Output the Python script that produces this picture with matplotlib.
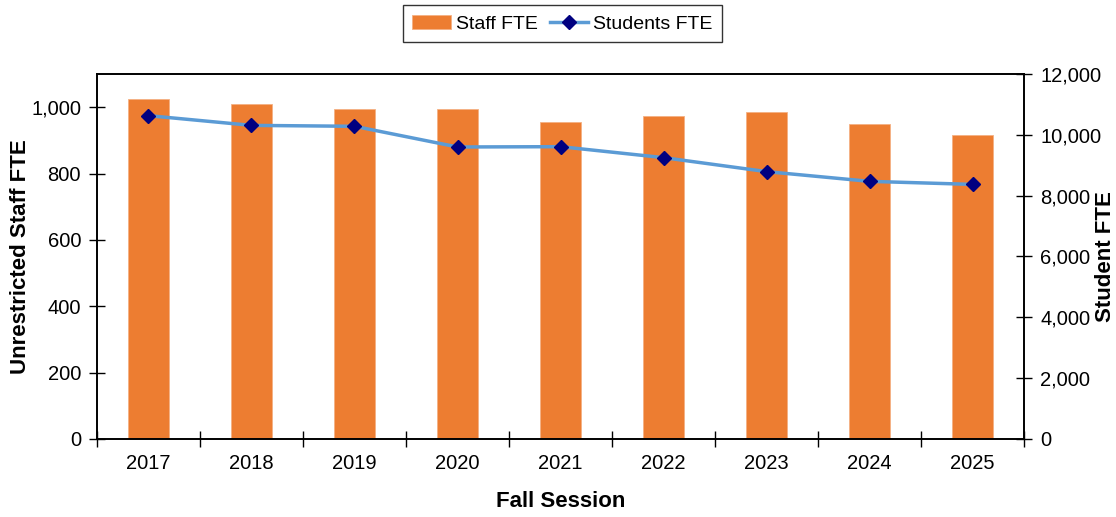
import matplotlib
matplotlib.use('Agg')
import matplotlib.pyplot as plt
import numpy as np
from matplotlib.ticker import FuncFormatter, FixedLocator, NullFormatter

plt.rcParams['font.family'] = ['Liberation Sans', 'DejaVu Sans']

years = ['2017', '2018', '2019', '2020', '2021', '2022', '2023', '2024', '2025']
staff_fte = [1025, 1010, 993, 993, 956, 972, 986, 950, 915]
students_fte = [10630, 10310, 10280, 9600, 9610, 9250, 8790, 8470, 8370]

fig = plt.figure(figsize=(11.16, 5.17), dpi=100)
ax1 = fig.add_axes([0.0869, 0.1509, 0.8307, 0.706])
ax2 = ax1.twinx()

x = np.arange(len(years))
bars = ax1.bar(x, staff_fte, width=0.4, color='#ED7D31', edgecolor='#F4B183',
               linewidth=0.6, label='Staff FTE', zorder=2)
line, = ax2.plot(x, students_fte, color='#5B9BD5', linewidth=2.5, marker='D',
                 markersize=7, markerfacecolor='#000080', markeredgecolor='#000080',
                 label='Students FTE', zorder=3)

ax1.set_xlim(-0.5, len(years) - 0.5)
ax1.set_ylim(0, 1100)
ax1.set_yticks(range(0, 1001, 200))
ax2.set_ylim(0, 12000)
ax2.set_yticks(range(0, 12001, 2000))

fmt = FuncFormatter(lambda v, p: f'{int(v):,}')
ax1.yaxis.set_major_formatter(fmt)
ax2.yaxis.set_major_formatter(fmt)

# category boundaries as tick marks, labels at centres
ax1.xaxis.set_major_locator(FixedLocator(np.arange(-0.5, len(years), 1.0)))
ax1.xaxis.set_major_formatter(NullFormatter())
ax1.xaxis.set_minor_locator(FixedLocator(x))
ax1.set_xticklabels(years, minor=True)
ax1.tick_params(axis='x', which='major', direction='inout', length=11, width=1)
ax1.tick_params(axis='x', which='minor', length=0, pad=11, labelsize=14.5)
ax1.tick_params(axis='y', direction='inout', length=11, width=1, labelsize=14.5, pad=6)
ax2.tick_params(axis='y', direction='inout', length=11, width=1, labelsize=14.5, pad=6)

for a in (ax1, ax2):
    for s in a.spines.values():
        s.set_color('black')
        s.set_linewidth(1.2)

ax1.set_xlabel('Fall Session', fontsize=16, fontweight='bold', labelpad=13)
ax1.set_ylabel('Unrestricted Staff FTE', fontsize=16, fontweight='bold',
               ha='center', va='center')
ax2.set_ylabel('Student FTE', fontsize=16, fontweight='bold',
               ha='center', va='center')
ax1.yaxis.set_label_coords(-0.082, 0.5)
ax2.yaxis.set_label_coords(1.088, 0.5)

leg = fig.legend(handles=[bars, line], loc='upper center', bbox_to_anchor=(0.504, 0.990),
                 ncol=2, fontsize=14, frameon=True, fancybox=False,
                 edgecolor='black', handlelength=2.0, columnspacing=0.6,
                 handletextpad=0.25, borderpad=0.5, borderaxespad=0)
leg.get_frame().set_linewidth(1.0)

fig.savefig('out.png', dpi=100)
